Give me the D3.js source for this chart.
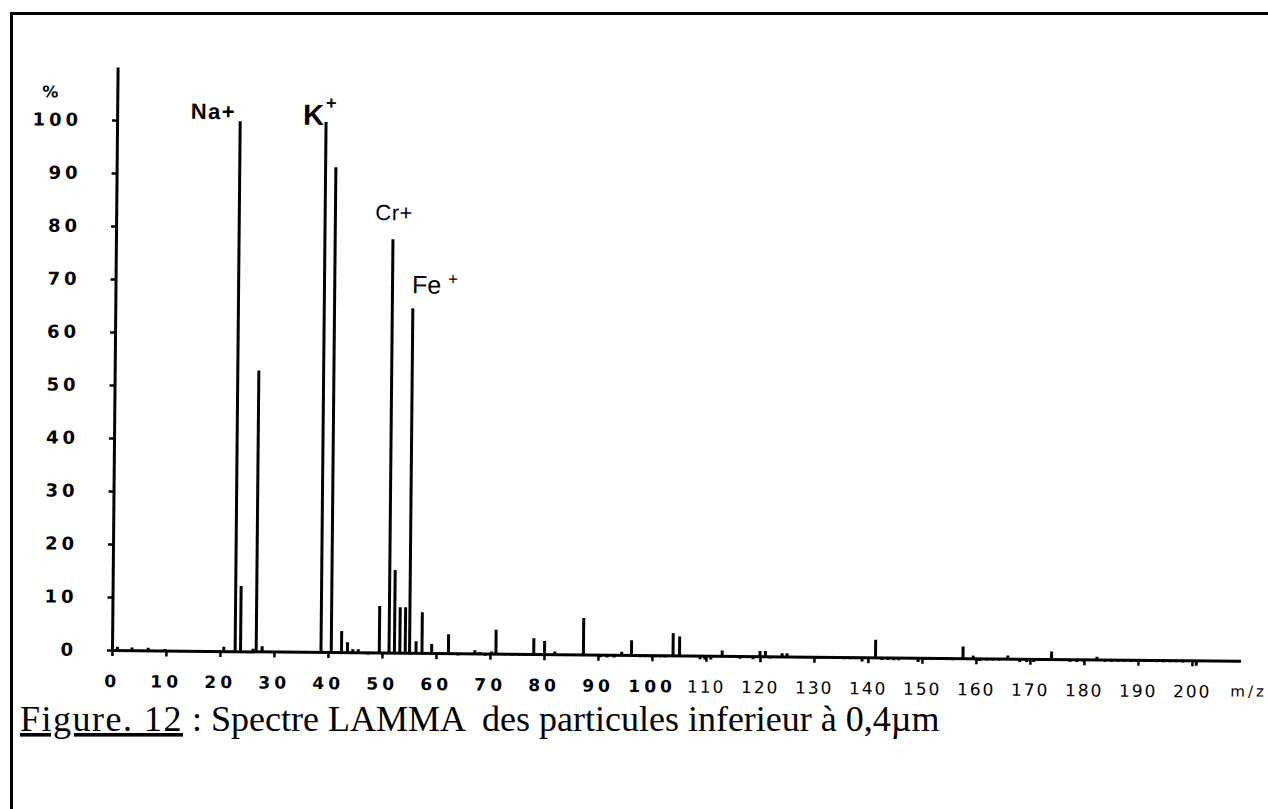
<!DOCTYPE html>
<html>
<head>
<meta charset="utf-8">
<script src="https://cdn.jsdelivr.net/npm/d3@7"></script>
<style>
  body { margin: 0; background: #fff; }
  svg { display: block; }
  text { white-space: pre; }
</style>
</head>
<body>
<svg id="chart" width="1268" height="809"></svg>
<script>
// Axis ticks
const mzTicks = d3.range(0, 201, 10);
const pctTicks = d3.range(0, 101, 10);

// LAMMA spectrum: peak positions (m/z) and relative intensities (%)
const peakMz = [1.0, 3.7, 6.7, 9.8, 20.7, 22.8, 23.8, 26.1, 26.7, 27.8,
  38.7, 40.6, 42.5, 43.6, 44.6, 45.6, 49.5, 51.3, 52.3, 53.3, 54.3, 55.1,
  56.3, 57.4, 59.2, 62.3, 67.2, 68.1, 70.3, 71.1, 78.1, 80.1, 82.0, 87.3,
  94.4, 96.2, 103.9, 105.1, 113.0, 120.0, 121.0, 124.1, 125.0, 141.4,
  157.6, 159.5, 165.9, 174.0, 182.4];
const peakPct = [0.6, 0.5, 0.5, 0.3, 0.8, 100, 12.3, 0.5, 53, 1.0,
  100, 91.5, 4.0, 1.9, 0.6, 0.6, 8.8, 78, 15.6, 8.6, 8.6, 65,
  2.2, 7.7, 1.7, 3.6, 0.6, 0.3, 0.4, 4.5, 3.0, 2.5, 0.5, 6.9,
  0.6, 2.8, 4.2, 3.6, 1.0, 1.0, 1.0, 0.6, 0.6, 3.3,
  2.2, 0.5, 0.6, 1.4, 0.5];

// Small negative excursions of the baseline (noise)
const dipMz = [47.4, 64.1, 69.1, 72.8, 74.1, 75.4, 76.7, 83.9, 84.8, 90.4,
  91.7, 93.0, 97.8, 98.7, 99.6, 100.6, 101.5, 102.4, 108.9, 109.8, 110.9,
  116.3, 118.7, 121.9, 127.4, 128.5, 129.6, 130.7, 131.9, 134.4, 135.6,
  136.7, 137.8, 138.9, 142.6, 143.7, 144.8, 145.7, 149.3, 150.6, 151.9,
  153.1, 154.4, 155.7, 160.7, 162.0, 163.1, 164.3, 168.1, 169.4, 170.7,
  177.4, 178.7, 180.0, 183.9, 185.1, 186.3, 187.5, 188.7, 189.9, 191.1,
  192.3, 193.5, 194.7, 195.9, 197.1, 198.3, 200.8];
const dipPct = [-0.4, -0.4, -0.4, -0.3, -0.3, -0.3, -0.3, -0.3, -0.3, -0.5,
  -0.5, -0.5, -0.4, -0.4, -0.4, -0.4, -0.4, -0.4, -0.7, -0.7, -0.7,
  -0.5, -0.6, -0.4, -0.3, -0.3, -0.3, -0.3, -0.3, -0.4, -0.4,
  -0.4, -0.4, -0.8, -0.5, -0.5, -0.5, -0.5, -0.8, -0.4, -0.4,
  -0.4, -0.4, -0.4, -0.5, -0.4, -0.4, -0.4, -0.6, -0.6, -0.6,
  -0.5, -0.5, -0.5, -0.4, -0.4, -0.4, -0.4, -0.4, -0.4, -0.4,
  -0.4, -0.4, -0.4, -0.4, -0.4, -0.4, -1.0];

// Ion annotations, attached to the peaks at these m/z
const ionName = ["Na+", "K", "Cr+", "Fe"];
const ionSup = ["", "+", "", "+"];
const ionMz = [22.8, 38.7, 51.3, 55.1];

const svg = d3.select("#chart");
const ink = "#000";

// Frame around the figure
svg.append("path")
  .attr("d", "M11.5,809V13.5H1268")
  .attr("fill", "none").attr("stroke", ink).attr("stroke-width", 3);

// Plot area (slightly tilted, as printed)
const plot = svg.append("g").attr("transform", "translate(112,650) rotate(0.55)");

const x = d3.scaleLinear().domain([0, 209]).range([0, 1128.6]);
const y = d3.scaleLinear().domain([0, 110]).range([0, -583]);

const tickFont = "'DejaVu Sans', sans-serif";

// Y axis
const yAxis = plot.append("g")
  .call(d3.axisLeft(y).tickValues(pctTicks).tickSize(5).tickSizeOuter(0).tickPadding(30));
yAxis.select(".domain").attr("stroke", ink).attr("stroke-width", 3);
yAxis.selectAll(".tick line").attr("stroke", ink).attr("stroke-width", 2.5);
yAxis.selectAll(".tick text")
  .attr("fill", ink)
  .style("font-family", tickFont).style("font-weight", "bold")
  .style("font-size", "18px").style("letter-spacing", "4px");

plot.append("text")
  .attr("x", -67).attr("y", -552)
  .attr("text-anchor", "middle")
  .style("font-family", tickFont).style("font-weight", "bold").style("font-size", "16px")
  .text("%");

// X axis
const xAxis = plot.append("g")
  .call(d3.axisBottom(x).tickValues(mzTicks).tickSize(6).tickSizeOuter(0).tickPadding(19));
xAxis.select(".domain").attr("stroke", ink).attr("stroke-width", 3);
xAxis.selectAll(".tick line").attr("stroke", ink).attr("stroke-width", 2.5);
xAxis.selectAll(".tick text")
  .attr("fill", ink)
  .style("font-family", tickFont)
  .style("font-weight", d => d <= 100 ? "bold" : "normal")
  .style("font-size", "17px")
  .style("letter-spacing", d => d <= 100 ? "4px" : "2px");

plot.append("text")
  .attr("x", x(200) + 57).attr("y", 25).attr("dy", "0.71em")
  .attr("text-anchor", "middle")
  .style("font-family", tickFont).style("font-size", "15px").style("letter-spacing", "3px")
  .text("m/z");

// Spectrum lines
const peaks = peakMz.map((m, i) => ({ mz: m, pct: peakPct[i] }));
const dips = dipMz.map((m, i) => ({ mz: m, pct: dipPct[i] }));

plot.append("g").selectAll("line")
  .data(peaks.concat(dips))
  .join("line")
  .attr("x1", d => x(d.mz)).attr("x2", d => x(d.mz))
  .attr("y1", y(0)).attr("y2", d => y(d.pct))
  .attr("stroke", ink).attr("stroke-width", 3);

// Ion labels
const labelFont = "'Liberation Sans', Arial, sans-serif";
const ionStyle = [
  { anchor: "end", dx: -4, dy: -2, size: 22, weight: "bold", ls: 1.5 },
  { anchor: "end", dx: -2, dy: 3, size: 29, weight: "bold", ls: 0 },
  { anchor: "middle", dx: 1, dy: -19, size: 22, weight: "normal", ls: 0.5 },
  { anchor: "start", dx: -1, dy: -15, size: 25, weight: "normal", ls: 0 }
];
const supStyle = [null,
  { dx: 5, dy: -13, size: 18, weight: "bold" },
  null,
  { dx: 40, dy: -24, size: 17, weight: "normal" }
];

ionName.forEach((name, i) => {
  const p = peaks.find(d => d.mz === ionMz[i]);
  const s = ionStyle[i];
  plot.append("text")
    .attr("x", x(p.mz) + s.dx).attr("y", y(p.pct) + s.dy)
    .attr("text-anchor", s.anchor)
    .style("font-family", labelFont).style("font-weight", s.weight)
    .style("font-size", s.size + "px").style("letter-spacing", s.ls + "px")
    .text(name);
  if (ionSup[i]) {
    const t = supStyle[i];
    plot.append("text")
      .attr("x", x(p.mz) + t.dx).attr("y", y(p.pct) + t.dy)
      .attr("text-anchor", "middle")
      .style("font-family", labelFont).style("font-weight", t.weight)
      .style("font-size", t.size + "px")
      .text(ionSup[i]);
  }
});

// Caption
const caption = svg.append("text")
  .attr("x", 20).attr("y", 731)
  .style("font-family", "'Liberation Serif', 'Times New Roman', serif")
  .style("font-size", "36px");
caption.append("tspan")
  .style("text-decoration", "underline").style("letter-spacing", "1.5px")
  .text("Figure. 12");
caption.append("tspan")
  .text(" : Spectre LAMMA  des particules inferieur à 0,4µm");
</script>
</body>
</html>
